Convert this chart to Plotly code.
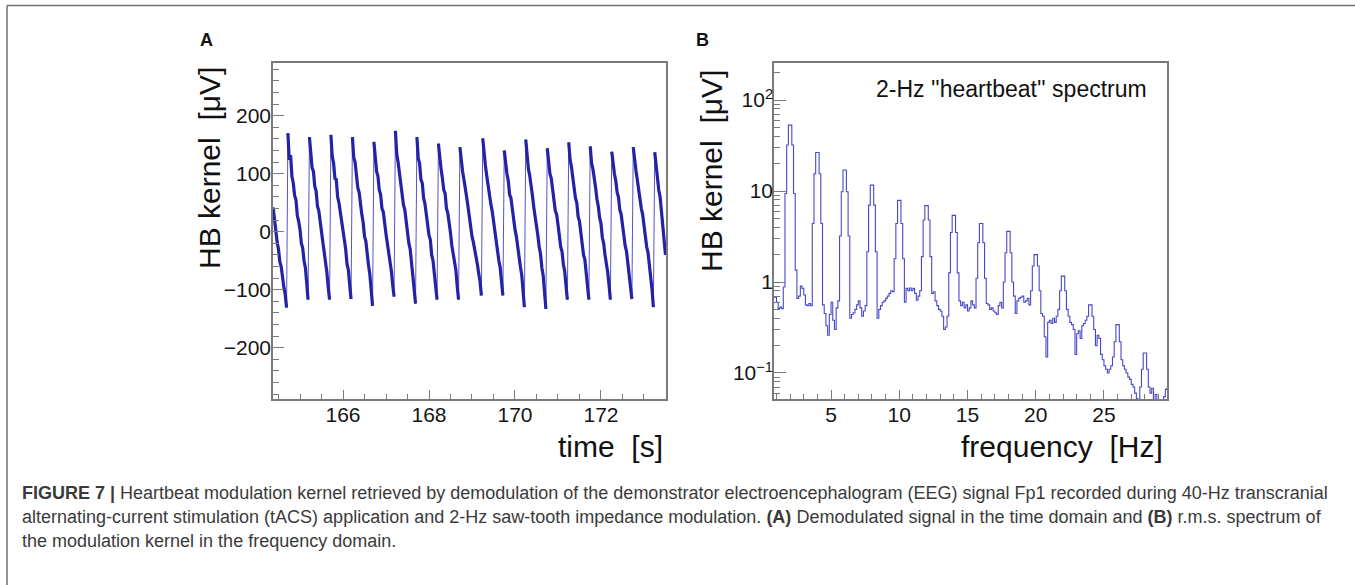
import numpy as np
import plotly.graph_objects as go

W, H = 1355, 585

# ---------------- Panel A: demodulated HB kernel in time domain ----------------
t_start = 164.375          # s, first sample
t_step = 1 / 32            # s, sampling step

hb_lead_in = [42, 18, 8, -18, -30, -52, -60, -82, -96, -108, -131]
hb_cycles = [
    [170, 124, 132, 95, 84, 62, 55, 28, 18, 4, -20, -28, -50, -62, -88, -117],
    [163, 140, 110, 104, 78, 70, 44, 36, 12, 0, -18, -34, -52, -70, -96, -117],
    [167, 130, 118, 92, 90, 60, 50, 34, 14, -2, -22, -30, -56, -66, -92, -116],
    [163, 128, 120, 98, 76, 68, 42, 30, 16, -8, -16, -42, -58, -74, -100, -128],
    [155, 132, 104, 96, 72, 64, 40, 34, 10, -4, -20, -34, -48, -68, -92, -112],
    [174, 134, 120, 100, 80, 70, 46, 38, 16, 0, -20, -30, -54, -64, -96, -124],
    [163, 126, 118, 90, 84, 58, 48, 28, 18, -6, -14, -40, -50, -70, -90, -117],
    [152, 122, 108, 92, 72, 66, 40, 32, 8, -2, -24, -36, -52, -66, -94, -117],
    [146, 120, 104, 90, 70, 60, 44, 24, 16, -8, -18, -30, -38, -56, -72, -86, -110],
    [161, 128, 114, 96, 78, 70, 48, 36, 18, 2, -20, -30, -50, -62, -90, -110],
    [140, 118, 100, 88, 64, 58, 36, 26, 4, -8, -28, -40, -60, -74, -98, -130],
    [159, 126, 108, 96, 72, 62, 42, 28, 10, -6, -26, -38, -62, -76, -104, -133],
    [144, 122, 100, 92, 70, 60, 36, 30, 6, -6, -26, -34, -56, -68, -94, -117],
    [154, 124, 112, 90, 80, 58, 50, 26, 18, -4, -16, -40, -48, -72, -88, -117],
    [147, 118, 108, 86, 76, 56, 44, 24, 14, -10, -20, -40, -54, -70, -92, -117],
    [138, 116, 100, 88, 68, 60, 38, 30, 8, -2, -24, -34, -54, -64, -90, -116],
    [146, 120, 106, 90, 72, 62, 40, 30, 10, -4, -26, -36, -58, -72, -100, -130],
    [137, 110, 96, 72, 60, 36, 22, -4, -40],
]

# ---------------- Panel B: r.m.s. spectrum of the kernel ----------------
bin_width = 0.125          # Hz
first_bin_edge = 0.75      # Hz
spec_head = [0.68, 0.68]
spec_rows = [  # each row spans 2 Hz (16 bins), starting at 1, 3, 5, ... Hz
    [0.6, 0.51, 0.53, 0.51, 0.88, 9.4, 32, 53, 53, 32, 9.4, 1.35, 0.66, 0.7, 0.9, 0.85],
    [0.72, 0.56, 0.55, 0.58, 0.55, 4.4, 15.5, 26.5, 26.5, 15.5, 4.4, 0.56, 0.45, 0.33, 0.26, 0.44],
    [0.6, 0.38, 0.3, 0.52, 0.62, 3.2, 9.8, 17, 17, 9.8, 3.2, 0.4, 0.44, 0.46, 0.5, 0.56],
    [0.62, 0.52, 0.42, 0.48, 0.55, 2.15, 7.0, 11.6, 11.6, 7.0, 2.15, 0.4, 0.5, 0.55, 0.6, 0.62],
    [0.66, 0.7, 0.75, 0.8, 0.78, 1.8, 4.4, 7.9, 7.9, 4.4, 1.8, 0.6, 0.85, 0.8, 0.86, 0.8],
    [0.85, 0.75, 0.63, 0.7, 0.8, 1.9, 4.8, 6.9, 6.9, 4.8, 1.9, 0.75, 0.78, 0.62, 0.55, 0.5],
    [0.48, 0.42, 0.3, 0.32, 0.42, 1.26, 3.5, 5.4, 5.4, 3.5, 1.26, 0.62, 0.55, 0.6, 0.52, 0.56],
    [0.48, 0.52, 0.62, 0.56, 0.52, 1.1, 2.7, 4.4, 4.4, 2.7, 1.1, 0.58, 0.56, 0.5, 0.52, 0.48],
    [0.46, 0.44, 0.55, 0.6, 0.52, 1.0, 2.1, 3.6, 3.6, 2.1, 1.0, 0.7, 0.45, 0.62, 0.66, 0.68],
    [0.7, 0.6, 0.62, 0.66, 0.56, 0.8, 1.5, 2.0, 2.0, 1.5, 0.8, 0.45, 0.42, 0.25, 0.15, 0.36],
    [0.38, 0.35, 0.4, 0.36, 0.42, 0.5, 0.8, 1.16, 1.16, 0.8, 0.5, 0.42, 0.36, 0.34, 0.3, 0.16],
    [0.27, 0.29, 0.24, 0.33, 0.35, 0.38, 0.42, 0.56, 0.56, 0.42, 0.3, 0.2, 0.26, 0.24, 0.16, 0.14],
    [0.12, 0.11, 0.1, 0.11, 0.12, 0.15, 0.22, 0.34, 0.34, 0.22, 0.14, 0.12, 0.11, 0.1, 0.09, 0.085],
    [0.075, 0.07, 0.06, 0.052, 0.045, 0.07, 0.11, 0.166, 0.166, 0.11, 0.07, 0.06, 0.068, 0.048, 0.058, 0.046],
]
spec_tail = [0.04, 0.04, 0.045, 0.055, 0.066, 0.068]

y_ticks_b = [0.1, 1, 10, 100]
y_ticktext_b = ["10<sup>\u22121</sup>", "1", "10", "10<sup>2</sup>"]

caption_lines = [
    "<b>FIGURE 7 |</b> Heartbeat modulation kernel retrieved by demodulation of the demonstrator "
    "electroencephalogram (EEG) signal Fp1 recorded during 40-Hz transcranial",
    "alternating-current stimulation (tACS) application and 2-Hz saw-tooth impedance modulation. "
    "<b>(A)</b> Demodulated signal in the time domain and <b>(B)</b> r.m.s. spectrum of",
    "the modulation kernel in the frequency domain.",
]

# ---------------- build series ----------------
hb_vals = list(hb_lead_in)
for c in hb_cycles:
    hb_vals.extend(c)
hb_vals = np.array(hb_vals, dtype=float)
hb_t = t_start + t_step * np.arange(len(hb_vals))

# thick trace: same samples, broken at the fast rising edges
thick_t, thick_v = [], []
for i in range(len(hb_vals)):
    if i > 0 and hb_vals[i] - hb_vals[i - 1] > 150:
        thick_t.append(None)
        thick_v.append(None)
    thick_t.append(hb_t[i])
    thick_v.append(hb_vals[i])

spec_vals = list(spec_head)
for r in spec_rows:
    spec_vals.extend(r)
spec_vals.extend(spec_tail)
spec_vals = np.array(spec_vals)
f_left = first_bin_edge + bin_width * np.arange(len(spec_vals))
f_step = np.append(f_left, f_left[-1] + bin_width)
v_step = np.append(spec_vals, spec_vals[-1])

# ---------------- figure ----------------
def px_x(x):
    return x / W

def px_y(y):
    return 1 - y / H

FONT = "Liberation Sans, Arial, Helvetica, sans-serif"
FRAME = "#7a7a7a"
BLUE = "#2323a6"

fig = go.Figure()
fig.add_trace(go.Scatter(x=hb_t, y=hb_vals, mode="lines",
                         line=dict(color="#3a3ab8", width=1.0), opacity=0.85,
                         xaxis="x", yaxis="y", hoverinfo="skip", showlegend=False))
fig.add_trace(go.Scatter(x=thick_t, y=thick_v, mode="lines",
                         line=dict(color=BLUE, width=3.2), connectgaps=False,
                         xaxis="x", yaxis="y", showlegend=False))
fig.add_trace(go.Scatter(x=f_step, y=v_step, mode="lines", line_shape="hv",
                         line=dict(color="#4848c6", width=1.1),
                         xaxis="x2", yaxis="y2", showlegend=False))

axis_common = dict(showline=True, mirror=True, linecolor=FRAME, linewidth=1.5,
                   ticks="inside", tickcolor=FRAME, tickwidth=1.2, showgrid=False,
                   zeroline=False, tickfont=dict(family=FONT, size=21, color="#151515"))

ydom = [px_y(399), px_y(63)]

fig.update_layout(
    width=W, height=H, margin=dict(l=0, r=0, t=0, b=0),
    paper_bgcolor="white", plot_bgcolor="white",
    font=dict(family=FONT),
    xaxis=dict(domain=[px_x(273), px_x(666)], range=[164.372, 173.512],
               tickmode="linear", tick0=0, dtick=2, ticklen=9,
               minor=dict(ticks="inside", dtick=0.5, tick0=0, ticklen=5, tickcolor=FRAME),
               ticklabelstandoff=-4, anchor="y", **axis_common),
    yaxis=dict(domain=ydom, range=[-288.5, 291], tickmode="linear", tick0=0, dtick=100,
               ticklen=11, minor=dict(ticks="inside", dtick=20, tick0=0, ticklen=6, tickcolor=FRAME),
               ticklabelstandoff=-4, anchor="x", **axis_common),
    xaxis2=dict(domain=[px_x(774), px_x(1167)], range=[0.82, 29.62],
                tickmode="linear", tick0=0, dtick=5, ticklen=9,
                minor=dict(ticks="inside", dtick=1, tick0=0, ticklen=5, tickcolor=FRAME),
                ticklabelstandoff=-4, anchor="y2", **axis_common),
    yaxis2=dict(domain=ydom, type="log", range=[-1.286, 2.407],
                tickmode="array", tickvals=y_ticks_b, ticktext=y_ticktext_b, ticklen=12,
                minor=dict(ticks="inside", ticklen=6, tickcolor=FRAME,
                           tickvals=[m * 10.0 ** e for e in range(-2, 3) for m in range(2, 10)]),
                ticklabelstandoff=-5, anchor="x2", **axis_common),
)

ann = []
def text(x, y, s, size, xanchor="center", yanchor="middle", **kw):
    d = dict(x=px_x(x), y=px_y(y), xref="paper", yref="paper", text=s, showarrow=False,
             xanchor=xanchor, yanchor=yanchor,
             font=dict(family=FONT, size=size, color=kw.pop("color", "#111111")))
    d.update(kw)
    ann.append(d)

text(206.5, 40, "<b>A</b>", 18)
text(702.5, 40, "<b>B</b>", 18)
text(209, 168, "HB kernel \u00a0[\u03bcV]", 30, textangle=-90)
text(711, 171, "HB kernel \u00a0[\u03bcV]", 30, textangle=-90)
text(665, 447, "time \u00a0[s]", 30, xanchor="right")
text(1165, 447, "frequency \u00a0[Hz]", 30, xanchor="right")
text(1149, 89, "2-Hz ''heartbeat'' spectrum", 23, xanchor="right")
for k, line in enumerate(caption_lines):
    text(20, 493 + 24 * k, line, 18, xanchor="left", align="left", color="#3a3a3a")
fig.update_layout(annotations=ann)

fig.add_shape(type="line", xref="paper", yref="paper", x0=px_x(7), x1=1, y0=px_y(5.5), y1=px_y(5.5),
              line=dict(color="#6e6e6e", width=1.5))
fig.add_shape(type="line", xref="paper", yref="paper", x0=px_x(7), x1=px_x(7), y0=px_y(5.5), y1=0,
              line=dict(color="#6e6e6e", width=1.5))

fig.write_html("out.html", config={"displayModeBar": False},
               post_script="document.body.style.margin='0px';")
